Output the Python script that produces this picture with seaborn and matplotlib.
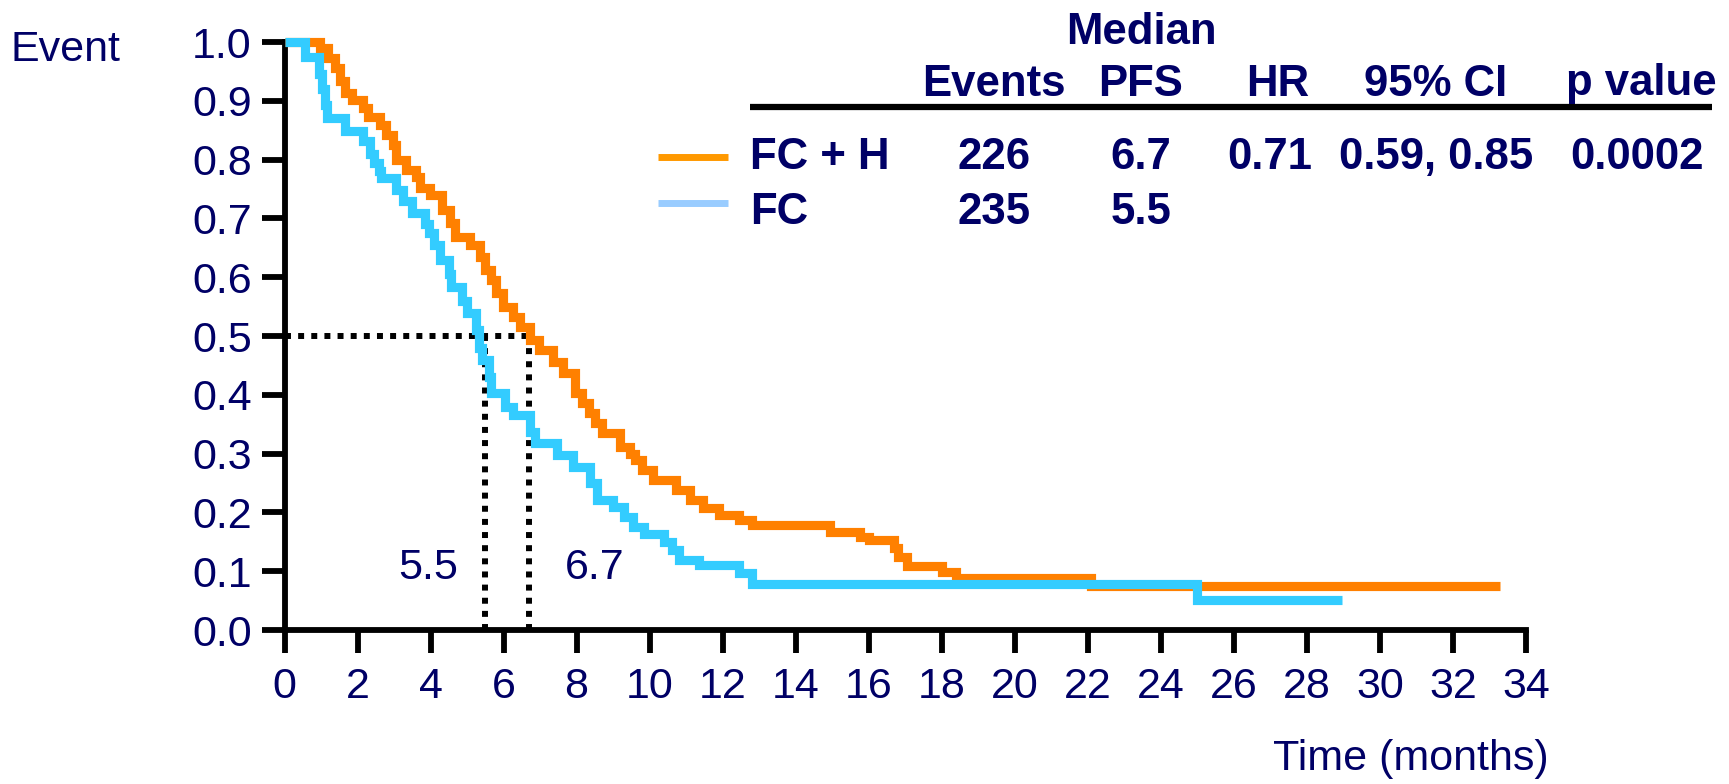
import matplotlib
matplotlib.use("Agg")
import matplotlib.pyplot as plt
from matplotlib.lines import Line2D
import seaborn as sns
import pandas as pd

# Kaplan-Meier style step curves: time in months, proportion event-free
fch_time = [0.0, 0.97, 1.2, 1.38, 1.52, 1.66, 1.84, 2.15, 2.29, 2.61, 2.79, 2.97,
            3.06, 3.34, 3.61, 3.7, 3.98, 4.3, 4.53, 4.67, 5.07, 5.35, 5.48, 5.66,
            5.8, 5.98, 6.26, 6.44, 6.71, 6.98, 7.35, 7.62, 7.95, 8.15, 8.33, 8.5,
            8.7, 9.2, 9.45, 9.6, 9.8, 10.1, 10.73, 11.1, 11.45, 11.9, 12.45, 12.8,
            14.94, 15.76, 16.0, 16.68, 16.8, 17.04, 18.0, 18.4, 22.1, 33.3]
fch_surv = [1.0, 0.989, 0.972, 0.955, 0.933, 0.913, 0.901, 0.887, 0.873, 0.859, 0.842, 0.825,
            0.80, 0.782, 0.77, 0.752, 0.74, 0.714, 0.692, 0.669, 0.655, 0.635, 0.612, 0.595,
            0.573, 0.55, 0.532, 0.515, 0.493, 0.476, 0.456, 0.437, 0.403, 0.386, 0.369, 0.352,
            0.335, 0.311, 0.30, 0.289, 0.272, 0.255, 0.238, 0.221, 0.207, 0.196, 0.187, 0.179,
            0.167, 0.159, 0.153, 0.139, 0.125, 0.109, 0.099, 0.088, 0.074, 0.074]

fc_time = [0.0, 0.55, 0.95, 1.02, 1.1, 1.17, 1.65, 2.15, 2.35, 2.45, 2.58, 2.65,
           3.05, 3.25, 3.5, 3.85, 3.95, 4.1, 4.25, 4.5, 4.55, 4.85, 5.0, 5.25,
           5.32, 5.42, 5.6, 5.65, 6.04, 6.26, 6.72, 6.86, 7.46, 7.9, 8.37, 8.55,
           9.0, 9.3, 9.55, 9.85, 10.4, 10.6, 10.8, 11.35, 12.45, 12.8, 25.0, 28.96]
fc_surv = [1.0, 0.975, 0.945, 0.92, 0.893, 0.87, 0.848, 0.832, 0.81, 0.795, 0.78, 0.768,
           0.748, 0.73, 0.709, 0.69, 0.675, 0.655, 0.63, 0.605, 0.584, 0.56, 0.539, 0.51,
           0.48, 0.459, 0.43, 0.403, 0.38, 0.366, 0.337, 0.318, 0.298, 0.277, 0.25, 0.221,
           0.21, 0.192, 0.175, 0.164, 0.15, 0.136, 0.119, 0.11, 0.097, 0.078, 0.051, 0.051]

arm_labels = ["FC + H", "FC"]
median_pfs = [6.7, 5.5]
events = [226, 235]
hazard_ratio = "0.71"
ci_95 = "0.59, 0.85"
p_value = "0.0002"
table_columns = ["Events", "PFS", "HR", "95% CI", "p value"]

x_ticks = list(range(0, 35, 2))
y_ticks = [round(0.1 * i, 1) for i in range(11)]

NAVY = "#000066"
ORANGE = "#FF8000"
BLUE = "#33CCFF"
FS = 31

sns.set_theme(style="ticks")
plt.rcParams["font.family"] = ["Liberation Sans", "DejaVu Sans"]

W, H = 1729, 784
fig = plt.figure(figsize=(W / 100, H / 100), dpi=100)
ax = fig.add_axes([284.5 / W, 1 - 630 / H, (1526 - 284.5) / W, (630 - 42) / H])


def fx(x, y):
    return x / W, 1 - y / H


df = pd.concat([
    pd.DataFrame({"time": fch_time, "surv": fch_surv, "arm": arm_labels[0]}),
    pd.DataFrame({"time": fc_time, "surv": fc_surv, "arm": arm_labels[1]}),
])

# median reference lines
ax.plot([0, median_pfs[0]], [0.5, 0.5], color="black", lw=4.3,
        linestyle=(0, (1, 1.2)), zorder=1)
for m in median_pfs:
    ax.plot([m, m], [0, 0.5], color="black", lw=4.3,
            linestyle=(0, (1, 1.2)), zorder=1)

sns.lineplot(data=df, x="time", y="surv", hue="arm", hue_order=arm_labels,
             palette={arm_labels[0]: ORANGE, arm_labels[1]: BLUE},
             drawstyle="steps-post", linewidth=6.6, legend=False,
             estimator=None, sort=False, ax=ax, clip_on=False, zorder=3,
             solid_joinstyle="miter", solid_capstyle="butt")

ax.set_xlim(0, 34)
ax.set_ylim(0, 1)
ax.set_xticks(x_ticks)
ax.set_yticks(y_ticks)
ax.set_yticklabels([f"{v:.1f}" for v in y_ticks])
ax.set_xlabel("")
ax.set_ylabel("")
for side in ("top", "right"):
    ax.spines[side].set_visible(False)
for side in ("left", "bottom"):
    ax.spines[side].set_linewidth(4.2)
    ax.spines[side].set_color("black")
    ax.spines[side].set_capstyle("projecting")
ax.tick_params(axis="both", direction="out", length=16.5, width=4.2,
               color="black", labelcolor=NAVY, labelsize=FS)
ax.tick_params(axis="y", pad=7)
ax.tick_params(axis="x", pad=10)

# median value annotations
ax.text(3.93, 0.105, f"{median_pfs[1]}", color=NAVY, fontsize=FS,
        ha="center", va="center")
ax.text(8.5, 0.105, f"{median_pfs[0]}", color=NAVY, fontsize=FS,
        ha="center", va="center")

fig.text(*fx(11, 50), "Event", color=NAVY, fontsize=FS, ha="left", va="center")
fig.text(*fx(1549, 759), "Time (months)", color=NAVY, fontsize=FS,
         ha="right", va="center")

# summary table
bold = dict(color=NAVY, fontsize=31.5, fontweight="bold", va="center")
col_x = [993.6, 1141, 1278, 1436, 1641]
fig.text(*fx(1141, 32), "Median", ha="center", **bold)
for cx, name in zip(col_x, table_columns):
    fig.text(*fx(cx, 84), name, ha="center", **bold)
fig.add_artist(Line2D([750 / W, 1712 / W], [1 - 107 / H, 1 - 107 / H],
                      transform=fig.transFigure, color="black", lw=4.5,
                      solid_capstyle="butt"))

row_y = [157.5, 212]
swatch_y = [156.6, 203]
swatch_colors = ["#FF9900", "#99CCFF"]
for i, arm in enumerate(arm_labels):
    fig.add_artist(Line2D([658 / W, 728 / W], [1 - swatch_y[i] / H] * 2,
                          transform=fig.transFigure, color=swatch_colors[i],
                          lw=5, solid_capstyle="butt"))
    fig.text(*fx(750, row_y[i]), arm, ha="left", **bold)
    fig.text(*fx(col_x[0], row_y[i]), str(events[i]), ha="center", **bold)
    fig.text(*fx(col_x[1], row_y[i]), f"{median_pfs[i]}", ha="center", **bold)
fig.text(*fx(1270, row_y[0]), hazard_ratio, ha="center", **bold)
fig.text(*fx(col_x[3], row_y[0]), ci_95, ha="center", **bold)
fig.text(*fx(1637, row_y[0]), p_value, ha="center", **bold)

fig.savefig("out.png", dpi=100, facecolor="white")
